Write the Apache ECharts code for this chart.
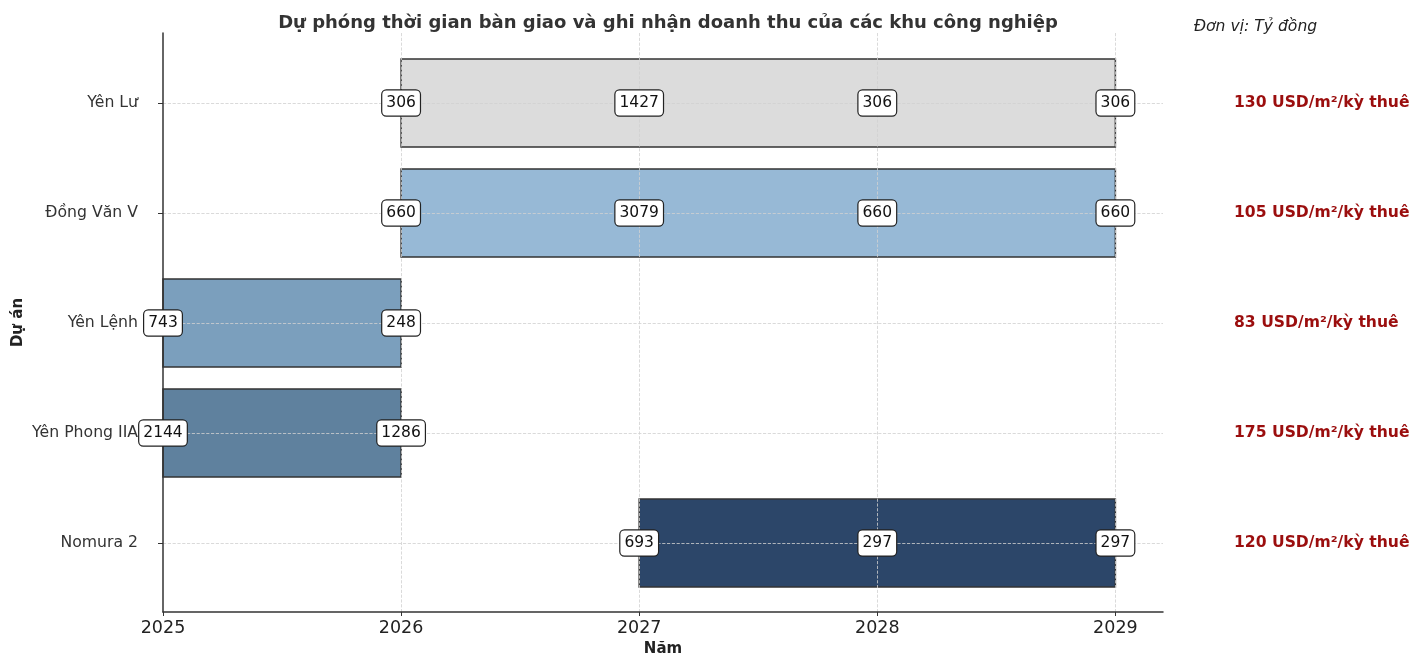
<!DOCTYPE html>
<html>
<head>
<meta charset="utf-8">
<script src="https://cdn.jsdelivr.net/npm/echarts@6/dist/echarts.min.js"></script>
<style>
  html, body { margin: 0; padding: 0; background: #fff; }
  #main { width: 1426px; height: 657px; }
</style>
</head>
<body>
<div id="main"></div>
<script>
// dự án (trên xuống dưới)
var projects = ['Yên Lư', 'Đồng Văn V', 'Yên Lệnh', 'Yên Phong IIA', 'Nomura 2'];
// năm bắt đầu / kết thúc bàn giao
var startYears = [2026, 2026, 2025, 2025, 2027];
var endYears = [2029, 2029, 2026, 2026, 2029];
// giá thuê
var rents = ['130 USD/m²/kỳ thuê', '105 USD/m²/kỳ thuê', '83 USD/m²/kỳ thuê', '175 USD/m²/kỳ thuê', '120 USD/m²/kỳ thuê'];
// doanh thu ghi nhận theo năm (tỷ đồng)
var revYenLu = [[2026, 306], [2027, 1427], [2028, 306], [2029, 306]];
var revDongVan = [[2026, 660], [2027, 3079], [2028, 660], [2029, 660]];
var revYenLenh = [[2025, 743], [2026, 248]];
var revYenPhong = [[2025, 2144], [2026, 1286]];
var revNomura = [[2027, 693], [2028, 297], [2029, 297]];
var barColors = ['#dcdcdc', '#97b9d6', '#7b9fbd', '#5f819e', '#2c4669'];

var chart = echarts.init(document.getElementById('main'));

var barData = projects.map(function (p, i) {
    return {
        value: [i, startYears[i], endYears[i]],
        itemStyle: { color: barColors[i] }
    };
});

var labelData = [];
[revYenLu, revDongVan, revYenLenh, revYenPhong, revNomura].forEach(function (arr, i) {
    arr.forEach(function (d) {
        labelData.push([d[0], projects[i], d[1]]);
    });
});

var font = 'DejaVu Sans';

var option = {
    animation: false,
    backgroundColor: '#fff',
    textStyle: { fontFamily: font },
    title: [{
        text: 'Dự phóng thời gian bàn giao và ghi nhận doanh thu của các khu công nghiệp',
        left: 663,
        textAlign: 'center',
        top: 9,
        textStyle: { fontSize: 18, fontWeight: 'bold', color: '#333', fontFamily: font }
    }, {
        text: 'Đơn vị: Tỷ đồng',
        left: 1189,
        top: 14,
        textStyle: { fontSize: 15.6, fontStyle: 'italic', fontWeight: 'normal', color: '#222', fontFamily: font }
    }],
    grid: [
        { left: 163, right: 263, top: 103, bottom: 114, outerBoundsMode: 'none', containLabel: false },
        { left: 163, right: 263, top: 33, bottom: 45, outerBoundsMode: 'none', containLabel: false }
    ],
    xAxis: [{
        gridIndex: 0,
        type: 'value',
        min: 2025,
        max: 2029.2,
        show: false
    }, {
        gridIndex: 1,
        type: 'value',
        min: 2025,
        max: 2029.2,
        interval: 1,
        z: 3,
        name: 'Năm',
        nameLocation: 'middle',
        nameGap: 29,
        nameTextStyle: { fontSize: 15, fontWeight: 'bold', color: '#222' },
        axisLine: { onZero: false, lineStyle: { color: '#333', width: 1.5 } },
        axisTick: { show: true, length: 4, lineStyle: { color: '#333' } },
        axisLabel: {
            fontSize: 17.5,
            color: '#222',
            margin: 7,
            showMaxLabel: false,
            formatter: function (v) { return v % 1 === 0 ? String(v) : ''; }
        },
        splitLine: {
            show: true,
            showMinLine: false,
            showMaxLine: false,
            lineStyle: { color: '#d0d0d0', type: 'dashed', width: 0.8 }
        }
    }],
    yAxis: [{
        gridIndex: 0,
        type: 'category',
        data: projects,
        inverse: true,
        boundaryGap: false,
        z: 3,
        axisLine: { show: false },
        axisTick: { show: true, length: 5, lineStyle: { color: '#333' } },
        axisLabel: { fontSize: 15.7, color: '#333', margin: 25 },
        splitLine: { show: true, lineStyle: { color: '#d0d0d0', type: 'dashed', width: 0.8 } }
    }, {
        gridIndex: 0,
        type: 'category',
        data: projects,
        inverse: true,
        boundaryGap: false,
        position: 'right',
        axisLine: { show: false },
        axisTick: { show: false },
        splitLine: { show: false },
        axisLabel: {
            margin: 71,
            fontSize: 15.6,
            fontWeight: 'bold',
            color: '#9b0e0e',
            formatter: function (v, idx) { return rents[idx]; }
        }
    }, {
        gridIndex: 1,
        type: 'value',
        min: 0,
        max: 1,
        z: 4,
        name: 'Dự án',
        nameLocation: 'middle',
        nameRotate: 90,
        nameGap: 137,
        nameTextStyle: { fontSize: 15, fontWeight: 'bold', color: '#222' },
        axisLine: { show: true, onZero: false, lineStyle: { color: '#333', width: 1.5 } },
        axisTick: { show: false },
        axisLabel: { show: false },
        splitLine: { show: false }
    }],
    series: [{
        type: 'custom',
        xAxisIndex: 0,
        yAxisIndex: 0,
        z: 2,
        encode: { x: [1, 2], y: 0 },
        data: barData,
        renderItem: function (params, api) {
            var idx = api.value(0);
            var p0 = api.coord([api.value(1), idx]);
            var p1 = api.coord([api.value(2), idx]);
            var band = Math.abs(api.coord([2025, 1])[1] - api.coord([2025, 0])[1]);
            var h = band * 0.8;
            return {
                type: 'rect',
                shape: { x: p0[0], y: p0[1] - h / 2, width: p1[0] - p0[0], height: h },
                style: { fill: api.visual('color'), stroke: '#333', lineWidth: 1.5 }
            };
        }
    }, {
        type: 'scatter',
        xAxisIndex: 0,
        yAxisIndex: 0,
        z: 5,
        symbolSize: 0,
        clip: false,
        itemStyle: { opacity: 1 },
        data: labelData,
        label: {
            show: true,
            position: 'inside',
            formatter: function (p) { return p.value[2]; },
            fontSize: 15.5,
            fontFamily: font,
            color: '#111',
            backgroundColor: '#fff',
            borderColor: '#222',
            borderWidth: 1.2,
            borderRadius: 4,
            padding: [5, 4, 4, 4]
        }
    }]
};

chart.setOption(option);
</script>
</body>
</html>
